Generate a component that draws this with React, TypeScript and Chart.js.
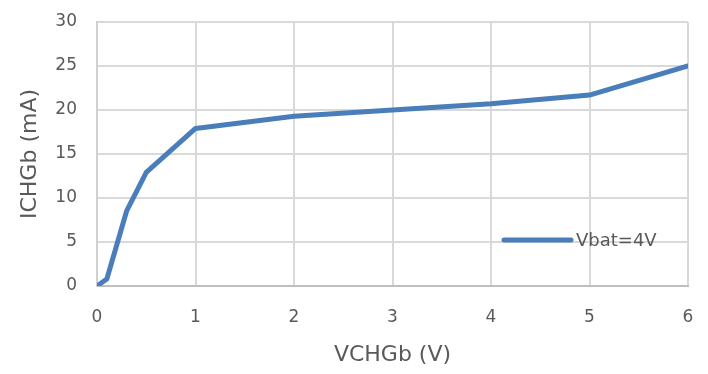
import React, { useEffect, useRef } from "react";
import { Chart, registerables } from "chart.js";

Chart.register(...registerables);

const xValues = [0, 0.1, 0.3, 0.5, 1, 2, 3, 4, 5, 6];
const yValues = [0, 0.8, 8.5, 12.9, 17.9, 19.3, 20.0, 20.7, 21.7, 25.0];
const seriesLabel = "Vbat=4V";
const xTitle = "VCHGb (V)";
const yTitle = "ICHGb (mA)";

const FONT = "'DejaVu Sans', sans-serif";
const TEXT = "#595959";
const LINE = "#4A7EBB";

const legendPlugin = {
  id: "insideLegend",
  afterDatasetsDraw(chart: any) {
    const ctx = chart.ctx;
    const y = 240;
    ctx.save();
    ctx.strokeStyle = LINE;
    ctx.lineWidth = 5;
    ctx.lineCap = "round";
    ctx.beginPath();
    ctx.moveTo(504, y);
    ctx.lineTo(571, y);
    ctx.stroke();
    ctx.fillStyle = TEXT;
    ctx.font = `18px ${FONT}`;
    ctx.textBaseline = "middle";
    ctx.textAlign = "left";
    ctx.fillText(chart.data.datasets[0].label, 576, y + 1);
    ctx.restore();
  },
};

export default function App() {
  const ref = useRef<HTMLCanvasElement>(null);
  useEffect(() => {
    const chart = new Chart(ref.current!, {
      type: "line",
      data: {
        datasets: [
          {
            label: seriesLabel,
            data: xValues.map((x, i) => ({ x, y: yValues[i] })),
            borderColor: LINE,
            backgroundColor: LINE,
            borderWidth: 5,
            pointRadius: 0,
            borderCapStyle: "round",
            borderJoinStyle: "round",
            tension: 0,
          },
        ],
      },
      options: {
        animation: false,
        responsive: false,
        devicePixelRatio: 1,
        layout: { padding: { top: 22, right: 20, left: 0, bottom: 0 } },
        plugins: { legend: { display: false }, tooltip: { enabled: false } },
        scales: {
          x: {
            type: "linear",
            min: 0,
            max: 6,
            ticks: { stepSize: 1, color: TEXT, font: { family: FONT, size: 17 }, padding: 21 },
            grid: { color: "#d9d9d9", lineWidth: 2, drawTicks: false },
            border: { color: "#bfbfbf", width: 2 },
            title: {
              display: true,
              text: xTitle,
              color: TEXT,
              font: { family: FONT, size: 22 },
              padding: { top: 0, bottom: 6 },
            },
            afterFit: (s: any) => {
              s.height = 88;
              s.paddingLeft = 0;
              s.paddingRight = 0;
            },
          },
          y: {
            min: 0,
            max: 30,
            ticks: { stepSize: 5, color: TEXT, font: { family: FONT, size: 17 }, padding: 20 },
            grid: { color: "#d9d9d9", lineWidth: 2, drawTicks: false },
            border: { color: "#d0d0d0", width: 2 },
            title: {
              display: true,
              text: yTitle,
              color: TEXT,
              font: { family: FONT, size: 22 },
              padding: { top: 17, bottom: 0 },
            },
            afterFit: (s: any) => {
              s.width = 97;
              s.paddingTop = 0;
              s.paddingBottom = 0;
            },
          },
        },
      },
      plugins: [legendPlugin],
    } as any);
    return () => chart.destroy();
  }, []);
  return (
    <div style={{ position: "fixed", left: 0, top: 0, width: 708, height: 374, background: "#fff" }}>
      <canvas ref={ref} width={708} height={374} />
    </div>
  );
}
